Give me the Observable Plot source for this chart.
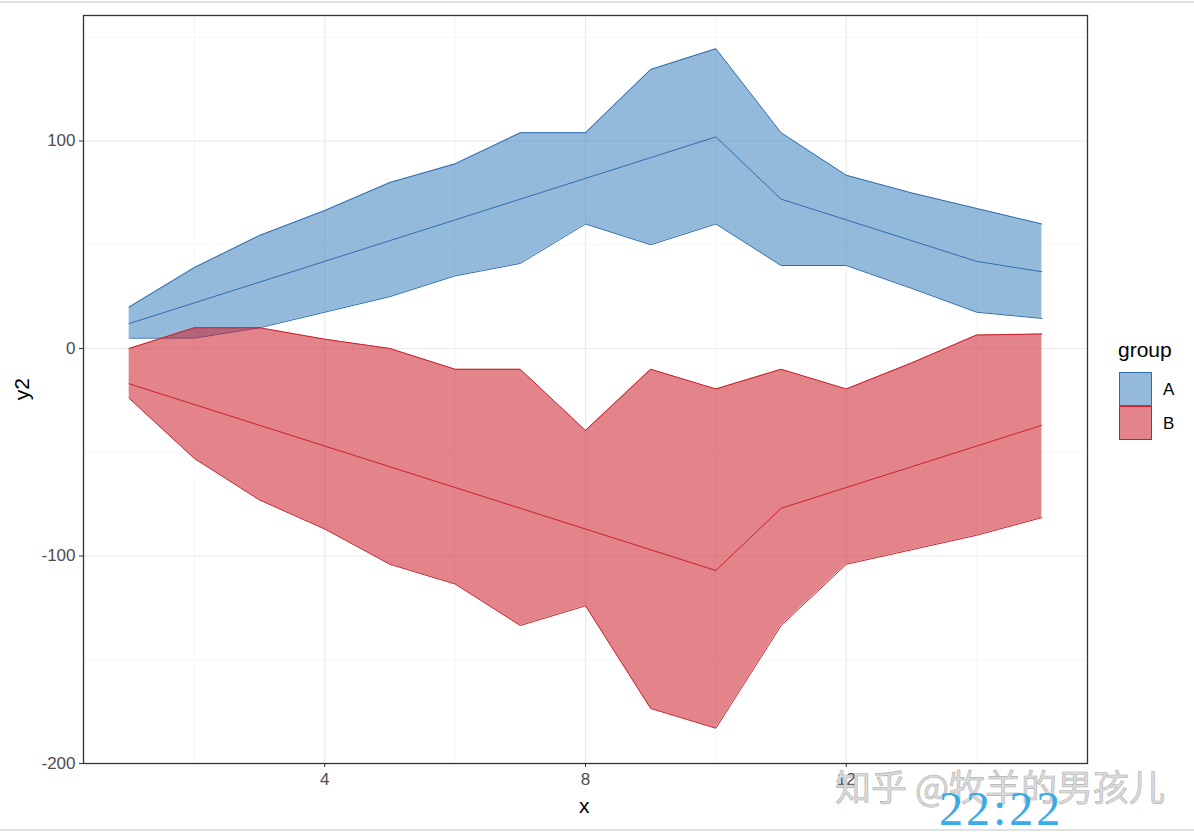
<!DOCTYPE html>
<html>
<head>
<meta charset="utf-8">
<script src="https://cdn.jsdelivr.net/npm/d3@7"></script>
<script src="https://cdn.jsdelivr.net/npm/@observablehq/plot@0.6"></script>
<style>
  html, body { margin: 0; padding: 0; background: #fff; }
  #wrap { position: relative; width: 1194px; height: 834px; overflow: hidden; font-family: "Liberation Sans", Arial, sans-serif; }
  .abs { position: absolute; white-space: nowrap; line-height: 1.15; }
</style>
</head>
<body>
<div id="wrap"></div>
<script>
// ---- data ----
const xs    = [1, 2, 3, 4, 5, 6, 7, 8, 9, 10, 11, 12, 13, 14, 15];
const aLow  = [5, 5, 10, 17.5, 25, 35, 41, 60, 50, 60, 40, 40, 29, 17.5, 14.5];
const aMid  = [12, 22, 32, 42, 52, 62, 72, 82, 92, 102, 72, 62, 52, 42, 37];
const aHigh = [20, 39, 54.5, 66.5, 80, 89, 104, 104, 134.5, 144.5, 104, 83.5, 75, 67.5, 60];
const bLow  = [-24, -53, -73, -87, -104, -113.5, -133.5, -124, -173.5, -183, -133.5, -104, -97, -90, -81.5];
const bMid  = [-17, -27, -37, -47, -57, -67, -77, -87, -97, -107, -77, -67, -57, -47, -37];
const bHigh = [0, 10, 10, 4.5, 0, -10, -10, -39.5, -10, -19.5, -10, -19.5, -7, 6.5, 7];

const groups     = ["A", "B"];
const fillColors = ["#3A7FBD", "#CC1F2B"];
const lineColors = ["#2E6DAE", "#C8202B"];

const xMajor = [4, 8, 12];
const xMinor = [2, 6, 10, 14];
const yMajor = [-200, -100, 0, 100];
const yMinor = [-150, -50, 50, 150];

const A = xs.map((x, i) => ({x, group: "A", lo: aLow[i], mid: aMid[i], hi: aHigh[i]}));
const B = xs.map((x, i) => ({x, group: "B", lo: bLow[i], mid: bMid[i], hi: bHigh[i]}));
const sets = [A, B];

const ribbonMarks = [];
sets.forEach((d, gi) => {
  ribbonMarks.push(Plot.areaY(d, {x: "x", y1: "lo", y2: "hi", fill: fillColors[gi], fillOpacity: 0.55}));
  ribbonMarks.push(Plot.lineY(d, {x: "x", y: "lo", stroke: lineColors[gi], strokeWidth: 1}));
  ribbonMarks.push(Plot.lineY(d, {x: "x", y: "hi", stroke: lineColors[gi], strokeWidth: 1}));
});
const midMarks = sets.map((d, gi) => Plot.lineY(d, {x: "x", y: "mid", stroke: lineColors[gi], strokeWidth: 1}));

const chart = Plot.plot({
  width: 1194,
  height: 834,
  marginLeft: 83,
  marginRight: 107,
  marginTop: 15,
  marginBottom: 71,
  style: {background: "#fff", fontFamily: "Liberation Sans, Arial, sans-serif"},
  x: {domain: [0.3, 15.7]},
  y: {domain: [-200, 160.5]},
  marks: [
    Plot.gridX(xMinor, {stroke: "#F2F2F2", strokeOpacity: 1, strokeWidth: 0.7}),
    Plot.gridY(yMinor, {stroke: "#F2F2F2", strokeOpacity: 1, strokeWidth: 0.7}),
    Plot.gridX(xMajor, {stroke: "#EBEBEB", strokeOpacity: 1, strokeWidth: 1.2}),
    Plot.gridY(yMajor, {stroke: "#EBEBEB", strokeOpacity: 1, strokeWidth: 1.2}),
    ...ribbonMarks,
    ...midMarks,
    Plot.frame({stroke: "#333333", strokeWidth: 1.3}),
    Plot.axisX(xMajor, {label: null, tickSize: 4, tickPadding: 5, fontSize: 17, stroke: "#333333", fill: "#4D4D4D", tickFormat: d => String(d)}),
    Plot.axisY(yMajor, {label: null, tickSize: 4, tickPadding: 4, fontSize: 17, stroke: "#333333", fill: "#4D4D4D", tickFormat: d => String(d)})
  ]
});

const wrap = document.getElementById("wrap");
wrap.appendChild(chart);
chart.style.position = "absolute";
chart.style.left = "0px";
chart.style.top = "0px";

function addDiv(html, css) {
  const el = document.createElement("div");
  el.className = "abs";
  el.innerHTML = html;
  Object.assign(el.style, css);
  wrap.appendChild(el);
  return el;
}

// screenshot edges
addDiv("", {left: "0px", top: "1px", width: "1194px", height: "2px", background: "#DDE3E3"});
addDiv("", {left: "0px", top: "829px", width: "1194px", height: "2px", background: "#DDE3E3"});

// axis titles
addDiv("x", {left: "579px", top: "794px", fontSize: "21px", color: "#000"});
addDiv("y2", {left: "2px", top: "377px", width: "40px", textAlign: "center", fontSize: "21px", color: "#000", transform: "rotate(-90deg)", transformOrigin: "center"});

// legend
addDiv("group", {left: "1118px", top: "338px", fontSize: "21px", color: "#000"});
groups.forEach((g, i) => {
  const top = 372 + i * 34;
  const mix = d3.interpolateRgb("#ffffff", fillColors[i])(0.55);
  addDiv("", {left: "1119px", top: top + "px", width: "31px", height: "32px", background: mix, border: "1.2px solid " + lineColors[i]});
  addDiv(g, {left: "1163px", top: (top + 8) + "px", fontSize: "17px", color: "#000"});
});

// watermark
addDiv("知乎 @牧羊的男孩儿", {left: "835px", top: "767px", lineHeight: "1", fontSize: "36px", color: "#DCDCDC", fontFamily: "'Noto Sans CJK SC', sans-serif", webkitTextStroke: "0.6px #B0B0B0"});
addDiv("22:22", {left: "939px", top: "785px", lineHeight: "1", fontSize: "48px", letterSpacing: "3px", color: "#3BAAE6", fontFamily: "'Liberation Serif', 'DejaVu Serif', serif"});
</script>
</body>
</html>
